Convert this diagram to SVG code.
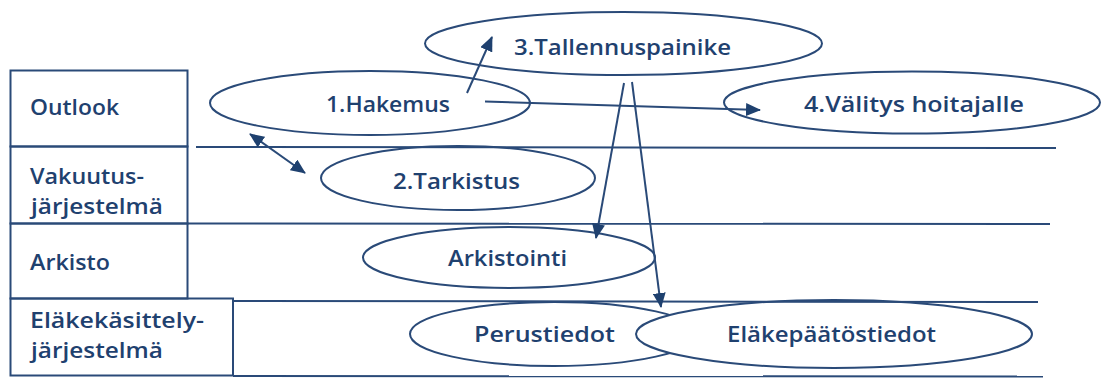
<svg xmlns="http://www.w3.org/2000/svg" width="1101" height="378" viewBox="0 0 1101 378">
<defs>
<style>
.t{font-family:"Open Sans","DejaVu Sans","Liberation Sans",sans-serif;font-size:21px;font-weight:600;fill:#1f416f;}
.box{fill:none;stroke:#2a4a78;stroke-width:2;}
.ln{fill:none;stroke:#2a4a78;stroke-width:2;}
.el{fill:none;stroke:#2a4a78;stroke-width:2;}
.elw{fill:#ffffff;stroke:#2a4a78;stroke-width:2;}
.ar{fill:none;stroke:#2a4a78;stroke-width:2;marker-end:url(#ah);}
</style>
<marker id="ah" viewBox="0 0 15 13" refX="14" refY="6.5" markerWidth="15" markerHeight="13" markerUnits="userSpaceOnUse" orient="auto-start-reverse">
<path d="M0,0 L15,6.5 L0,13 z" fill="#1f416f"/>
</marker>
</defs>
<rect width="1101" height="378" fill="#ffffff"/>

<g id="lanes">
<g id="lane-outlook">
<rect class="box" x="10.5" y="70.5" width="177" height="76"/>
<text class="t" x="30" y="115" textLength="89" lengthAdjust="spacingAndGlyphs">Outlook</text>
</g>
<g id="lane-vakuutus">
<rect class="box" x="10.5" y="146.5" width="177" height="77"/>
<text class="t" x="30" y="184" textLength="114" lengthAdjust="spacingAndGlyphs">Vakuutus-</text>
<text class="t" x="31" y="214" textLength="132" lengthAdjust="spacingAndGlyphs">järjestelmä</text>
</g>
<g id="lane-arkisto">
<rect class="box" x="10.5" y="223.5" width="177" height="75"/>
<text class="t" x="30" y="270" textLength="80" lengthAdjust="spacingAndGlyphs">Arkisto</text>
</g>
<g id="lane-elake">
<rect class="box" x="10.5" y="298.5" width="222.5" height="77"/>
<text class="t" x="30" y="328" textLength="174" lengthAdjust="spacingAndGlyphs">Eläkekäsittely-</text>
<text class="t" x="31" y="358" textLength="132" lengthAdjust="spacingAndGlyphs">järjestelmä</text>
</g>
<line class="ln" x1="196" y1="147" x2="1056" y2="148"/>
<line class="ln" x1="188" y1="223.5" x2="1050" y2="224"/>
<line class="ln" x1="233" y1="376" x2="1043" y2="376.5"/>
</g>

<g id="node-perustiedot">
<ellipse class="el" cx="554" cy="334" rx="144" ry="32"/>
<text class="t" x="474" y="342" textLength="141" lengthAdjust="spacingAndGlyphs">Perustiedot</text>
</g>
<g id="node-elakepaatostiedot">
<ellipse class="elw" cx="834" cy="334" rx="198" ry="34"/>
<text class="t" x="727" y="342" textLength="209" lengthAdjust="spacingAndGlyphs">Eläkepäätöstiedot</text>
</g>
<line class="ln" x1="233" y1="301" x2="1038" y2="302"/>

<g id="node-tallennus">
<ellipse class="el" cx="623.5" cy="43.5" rx="198.5" ry="31.5"/>
<text class="t" x="514" y="55" textLength="217" lengthAdjust="spacingAndGlyphs">3.Tallennuspainike</text>
</g>
<g id="node-hakemus">
<ellipse class="el" cx="370" cy="103" rx="160" ry="32"/>
<text class="t" x="326" y="112" textLength="124" lengthAdjust="spacingAndGlyphs">1.Hakemus</text>
</g>
<g id="node-valitys">
<ellipse class="el" cx="912" cy="102.5" rx="188" ry="31"/>
<text class="t" x="804" y="112" textLength="220" lengthAdjust="spacingAndGlyphs">4.Välitys hoitajalle</text>
</g>
<g id="node-tarkistus">
<ellipse class="el" cx="458" cy="178" rx="137" ry="32"/>
<text class="t" x="393" y="189" textLength="127" lengthAdjust="spacingAndGlyphs">2.Tarkistus</text>
</g>
<g id="node-arkistointi">
<ellipse class="el" cx="509" cy="257.5" rx="146" ry="30.5"/>
<text class="t" x="448" y="266" textLength="119" lengthAdjust="spacingAndGlyphs">Arkistointi</text>
</g>

<g id="connectors">
<line class="ar" x1="467" y1="93" x2="492" y2="37"/>
<line class="ar" x1="485" y1="101.5" x2="760" y2="110"/>
<line class="ar" x1="250" y1="134" x2="305" y2="173" marker-start="url(#ah)"/>
<line class="ar" x1="624" y1="83" x2="596" y2="238"/>
<line class="ar" x1="632" y1="82" x2="661" y2="307"/>
</g>
</svg>
